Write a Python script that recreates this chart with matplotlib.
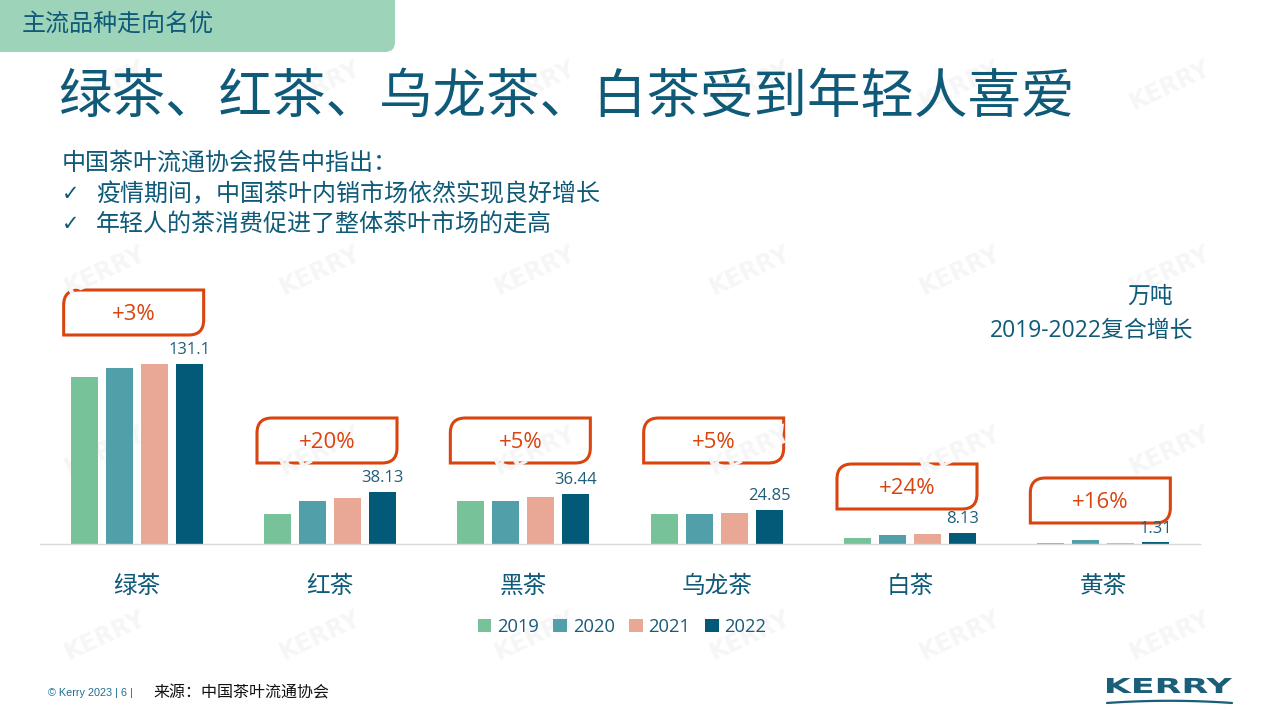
import numpy as np
import matplotlib
matplotlib.use("Agg")
import matplotlib.pyplot as plt
from matplotlib.path import Path
from matplotlib.patches import PathPatch
from matplotlib.textpath import TextPath
from matplotlib.font_manager import FontProperties
from matplotlib.transforms import Affine2D

plt.rcParams["font.family"] = ["Noto Sans CJK SC", "DejaVu Sans"]

# 数据
categories = ["绿茶", "红茶", "黑茶", "乌龙茶", "白茶", "黄茶"]
years = ["2019", "2020", "2021", "2022"]
v2019 = [121.6, 21.8, 31.5, 21.6, 4.1, 0.8]
v2020 = [128.2, 31.0, 31.0, 21.6, 6.3, 2.7]
v2021 = [131.0, 33.5, 34.5, 22.8, 7.1, 0.9]
v2022 = [131.1, 38.13, 36.44, 24.85, 8.13, 1.31]
growth = ["+3%", "+20%", "+5%", "+5%", "+24%", "+16%"]
box_top = [290, 418, 418, 418, 464, 478]   # 标签框位置(像素)

colors = ["#78c29a", "#519fa8", "#e9a895", "#035a78"]
teal = "#0e5a78"
orange = "#d9440f"
num_font = ["Open Sans", "Noto Sans CJK SC"]

W, H = 1280, 720
fig = plt.figure(figsize=(W / 100, H / 100), dpi=100)

# 背景层(像素坐标)
bg = fig.add_axes([0, 0, 1, 1], zorder=0)
bg.set_xlim(0, W)
bg.set_ylim(H, 0)
bg.axis("off")

# 水印
for wy in [85, 270, 450, 635]:
    for wx in [105, 320, 535, 750, 960, 1170]:
        bg.text(wx, wy, "KERRY", rotation=25, color="#f6f6f6", fontsize=17,
                fontweight="bold", family="DejaVu Sans", ha="center", va="center")

# 左上角标签
r = 10
tab = Path([(0, 0), (395, 0), (395, 52 - r), (395, 52), (395 - r, 52), (0, 52), (0, 0)],
           [Path.MOVETO, Path.LINETO, Path.LINETO, Path.CURVE3, Path.CURVE3, Path.LINETO, Path.CLOSEPOLY])
bg.add_patch(PathPatch(tab, facecolor="#9dd3b9", edgecolor="none"))
bg.text(22, 24, "主流品种走向名优", fontsize=17.3, color=teal, va="center")

# 标题
bg.text(58, 97, "绿茶、红茶、乌龙茶、白茶受到年轻人喜爱", fontsize=38.5, color=teal, va="center")

# 要点
bg.text(62, 163, "中国茶叶流通协会报告中指出：", fontsize=17.3, color=teal, va="center")
for yy, s in [(194, "疫情期间，中国茶叶内销市场依然实现良好增长"),
              (224, "年轻人的茶消费促进了整体茶叶市场的走高")]:
    bg.text(62, yy, "✓", fontsize=15, color=teal, va="center", family="DejaVu Sans")
    bg.text(96, yy, s, fontsize=17.3, color=teal, va="center")

bg.text(1173, 296, "万吨", fontsize=16.5, color=teal, va="center", ha="right")
bg.text(1193, 331, "2019-2022复合增长", fontsize=16.5, color=teal, va="center", ha="right",
        family=num_font)

# 页脚
bg.text(48, 693, "© Kerry 2023 | 6 |", fontsize=7.8, color="#1f6f8f", va="center",
        family="Liberation Sans")
bg.text(153, 693, "来源：中国茶叶流通协会", fontsize=11.5, color="#111111", va="center")

# KERRY 标志
tp = TextPath((0, 0), "KERRY", size=1, prop=FontProperties(family="DejaVu Sans", weight="bold"))
bb = tp.get_extents()
tf = Affine2D().translate(-bb.x0, -bb.y0).scale(125 / bb.width, -15 / bb.height).translate(1107, 693)
bg.add_patch(PathPatch(tp, transform=tf + bg.transData, facecolor="#1a5e7a", edgecolor="none"))
sx = np.linspace(1107, 1232, 60)
sy = 703 - 2.2 * (1 - ((sx - 1169.5) / 62.5) ** 2)
bg.plot(sx, sy, color="#1a5e7a", lw=1.6, solid_capstyle="round")

# 图表
ax = fig.add_axes([40 / W, (H - 544) / H, 1160 / W, 254 / H], zorder=1)
ax.patch.set_alpha(0)
x = np.arange(len(categories))
bw = 0.14
step = 0.181
series = [v2019, v2020, v2021, v2022]
for k, (vals, c, yr) in enumerate(zip(series, colors, years)):
    ax.bar(x + (k - 1.5) * step, vals, width=bw, color=c, label=yr, zorder=2)

for i, v in enumerate(v2022):
    ax.annotate(str(v), (x[i] + 1.5 * step, v), xytext=(0, 4), textcoords="offset points",
                ha="center", va="bottom", fontsize=12, color="#1f5f7a", family=num_font)

ax.set_xlim(-0.5, len(categories) - 0.5)
ax.set_ylim(0, 185)
ax.set_xticks(x)
ax.set_xticklabels(categories, fontsize=17, color=teal)
ax.tick_params(axis="x", length=0, pad=22)
ax.set_yticks([])
for sp in ["top", "right", "left"]:
    ax.spines[sp].set_visible(False)
ax.spines["bottom"].set_color("#d9d9d9")
ax.spines["bottom"].set_linewidth(1)

# 增长率框
inv = bg.transData.inverted()
bw_px, bh_px, rr = 140, 45, 15
for i, g in enumerate(growth):
    cx, _ = inv.transform(ax.transData.transform((x[i], 0)))
    x0 = cx - 3 - bw_px / 2
    y0 = box_top[i]
    p = Path([(x0, y0 + bh_px), (x0, y0 + rr), (x0, y0), (x0 + rr, y0), (x0 + bw_px, y0),
              (x0 + bw_px, y0 + bh_px - rr), (x0 + bw_px, y0 + bh_px), (x0 + bw_px - rr, y0 + bh_px),
              (x0, y0 + bh_px)],
             [Path.MOVETO, Path.LINETO, Path.CURVE3, Path.CURVE3, Path.LINETO, Path.LINETO,
              Path.CURVE3, Path.CURVE3, Path.CLOSEPOLY])
    bg.add_patch(PathPatch(p, facecolor="none", edgecolor=orange, lw=2.2))
    bg.text(x0 + bw_px / 2, y0 + bh_px / 2 + 2, g, fontsize=16, color=orange,
            ha="center", va="center", family=num_font)

leg = fig.legend(loc="center", bbox_to_anchor=(622 / W, (H - 627) / H), ncol=4, frameon=False,
                 handlelength=0.75, handleheight=0.75, handletextpad=0.3, columnspacing=0.8,
                 prop={"family": num_font, "size": 13.2}, labelcolor="#1a5a78")

fig.savefig("out.png", dpi=100)
plt.close()
